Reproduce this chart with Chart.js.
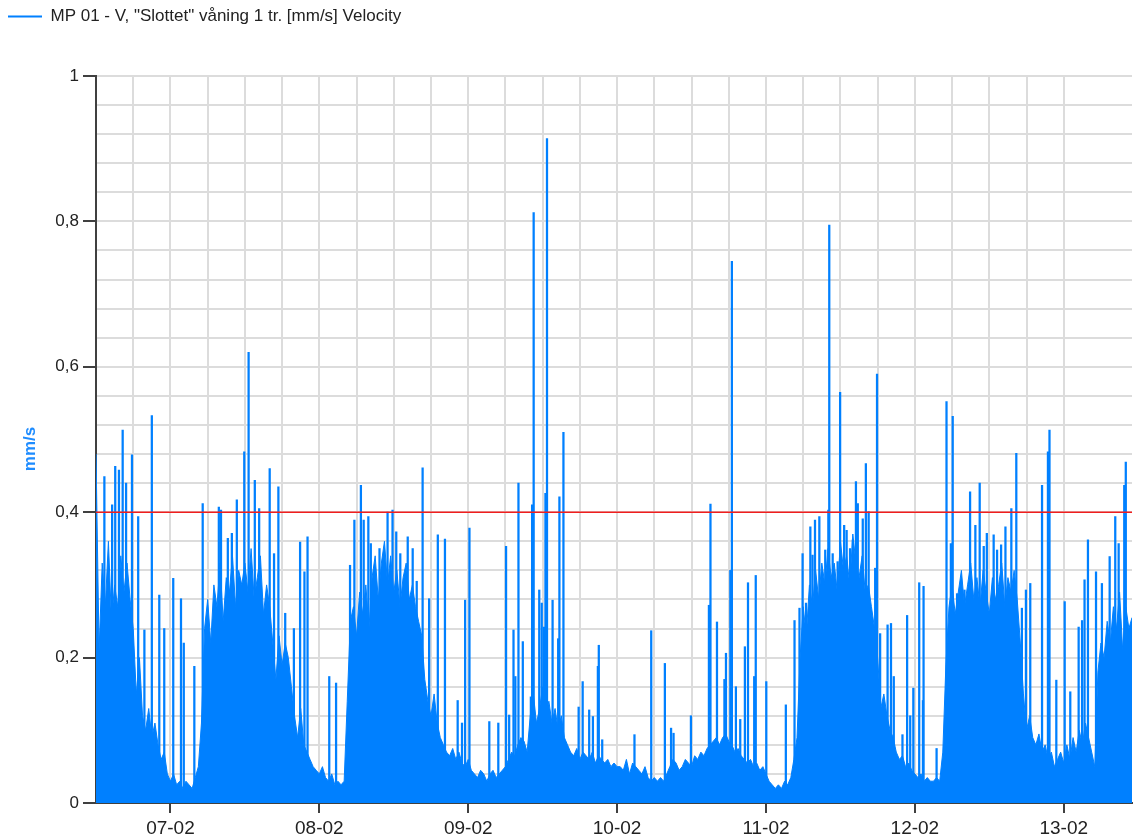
<!DOCTYPE html>
<html><head><meta charset="utf-8">
<script src="https://cdn.jsdelivr.net/npm/chart.js@4.4.1/dist/chart.umd.min.js"></script>
<style>html,body{margin:0;padding:0;background:#fff;}</style>
</head><body>
<canvas id="c" width="1137" height="838"></canvas>
<script>
const seriesName = 'MP 01 - V, "Slottet" våning 1 tr. [mm/s] Velocity';
const yAxisTitle = 'mm/s';
const dayLabels = ['07-02','08-02','09-02','10-02','11-02','12-02','13-02'];
const yTickLabels = ['0','0,2','0,4','0,6','0,8','1'];
// time in hours relative to 07-02 00:00
const xMin = -12, xMax = 155;
const startHour = -12, stepHours = 0.5;
const limitValue = 0.4;

const velocity = [
0.48,0.21,0.33,0.27,0.36,0.25,0.30,0.27,0.34,0.29,0.33,0.28,
0.24,0.15,0.20,
0.12,0.10,0.13,0.09,0.11,0.08,0.06,0.07,0.04,
0.03,0.04,0.025,0.03,0.02,0.03,0.025,0.02,0.035,0.05,
0.11,0.24,0.28,0.22,0.30,0.27,0.33,0.25,0.31,0.29,0.34,0.27,0.32,0.30,
0.33,0.29,0.35,0.28,0.31,0.34,0.26,0.30,0.27,
0.22,0.17,0.23,0.19,0.22,0.20,0.16,
0.12,0.09,0.13,0.08,0.07,
0.06,0.05,0.045,0.04,0.05,0.035,0.03,0.04,0.025,0.03,0.025,0.03,
0.14,
0.25,0.27,0.23,0.29,0.26,0.30,0.24,
0.31,0.34,0.28,0.33,0.36,0.30,0.34,0.29,0.32,0.27,0.31,0.33,0.28,0.30,0.27,
0.25,0.23,0.17,0.14,0.12,0.15,0.11,0.09,
0.08,0.07,0.065,0.075,0.06,0.07,0.055,0.05,0.06,
0.045,0.04,0.035,0.045,0.04,0.03,0.04,0.045,0.035,0.04,0.045,
0.05,0.06,0.07,0.065,0.08,0.09,0.085,0.07,
0.12,0.15,0.11,0.13,0.16,0.12,0.14,0.11,0.13,0.10,0.12,0.09,
0.08,0.07,0.065,0.075,0.06,0.07,0.065,0.06,0.07,0.055,0.065,0.06,0.055,0.06,0.05,0.055,0.05,
0.05,0.045,0.06,0.04,0.055,0.05,0.045,0.04,0.05,0.035,
0.03,0.035,0.03,0.035,0.03,0.04,
0.05,0.06,0.055,0.045,0.05,0.06,0.055,0.05,0.065,0.06,0.07,0.065,0.075,
0.08,0.085,0.09,0.08,0.09,0.095,0.085,0.08,
0.07,0.075,0.065,0.06,0.055,0.06,0.05,0.055,0.045,0.05,0.04,
0.03,0.025,0.02,0.025,0.02,0.03,0.025,0.035,0.06,
0.09,0.20,0.27,0.23,
0.30,0.27,0.32,0.28,0.33,0.30,0.35,0.31,0.33,0.29,0.36,0.32,0.34,0.30,0.37,0.33,0.31,0.34,0.29,0.30,0.27,
0.24,0.20,0.13,0.15,0.12,0.10,0.09,
0.07,0.06,0.065,0.05,0.055,0.045,0.04,0.035,0.04,0.03,0.035,0.03,0.03,0.035,0.03,
0.07,
0.19,0.27,0.30,0.26,0.29,0.32,0.27,0.30,0.33,0.28,0.31,0.27,0.32,0.29,0.26,0.31,0.28,0.30,0.33,0.27,0.31,0.29,0.32,
0.28,0.22,0.15,0.10,0.12,0.09,0.08,0.095,0.07,0.08,
0.06,0.07,0.05,0.06,0.07,0.055,0.08,0.06,0.09,0.07,0.10,0.08,0.11,0.09,0.07,0.05,
0.18,0.22,0.20,0.25,0.22,0.27,0.24,0.29,0.21,0.27,0.24,0.255
];

// short-lived peaks: time (hours) and value
const peakHours = [
-10.65,-9.4,-8.9,-8.3,-7.7,-7.15,-6.2,-5.2,-4.2,-3.0,-1.8,-1.0,0.45,1.7,2.15,3.85,5.2,7.8,8.15,9.25,9.9,10.7,11.9,12.6,13.6,14.3,
16.0,16.7,17.4,18.5,19.9,20.9,21.6,22.1,25.6,26.7,28.95,29.65,30.7,31.15,31.9,32.3,33.7,35.0,35.8,36.4,37.05,38.25,39.05,39.7,40.65,41.7,43.1,44.25,
46.3,47.0,47.5,48.2,51.4,52.85,54.1,54.6,55.3,55.6,56.1,56.8,58.1,58.3,58.55,59.45,59.85,60.2,60.45,60.7,61.6,62.5,62.7,63.35,65.8,66.45,67.5,68.1,68.9,69.05,69.6,
74.8,77.5,79.7,80.7,81.1,83.9,86.8,87.05,88.1,89.3,89.55,90.25,90.5,91.15,91.85,92.6,93.1,94.1,94.35,96.05,99.2,100.6,
101.4,101.9,102.45,103.15,103.5,103.9,104.6,105.55,106.05,106.2,106.75,107.55,107.95,108.6,109.0,109.55,110.0,110.5,110.8,111.6,112.1,112.55,113.6,113.9,114.4,115.6,116.15,116.6,
118.0,118.75,119.25,119.75,120.7,121.3,121.4,123.5,125.1,125.8,126.1,126.8,127.7,
128.0,128.9,129.75,130.45,131.1,131.6,132.7,133.25,133.9,134.6,135.55,136.35,137.25,137.9,138.6,140.5,141.45,141.7,142.8,144.15,145.05,146.4,146.95,147.35,147.9,
149.2,150.15,151.4,152.3,152.85,153.75,154.0
];
const peakValues = [
0.449,0.41,0.463,0.458,0.513,0.44,0.479,0.394,0.238,0.533,0.286,0.24,0.309,0.281,0.22,0.188,0.412,0.407,0.403,0.364,0.371,0.417,0.483,0.62,0.444,0.405,
0.46,0.343,0.435,0.261,0.24,0.359,0.318,0.366,0.174,0.165,0.327,0.389,0.437,0.389,0.394,0.357,0.35,0.4,0.403,0.373,0.343,0.366,0.35,0.305,0.461,0.281,0.369,0.363,
0.141,0.11,0.279,0.378,0.112,0.11,0.353,0.121,0.238,0.174,0.44,0.222,0.146,0.41,0.812,0.293,0.275,0.242,0.426,0.914,0.279,0.226,0.421,0.51,0.132,0.167,0.128,0.119,0.188,0.217,0.087,
0.094,0.237,0.192,0.103,0.096,0.12,0.272,0.411,0.249,0.17,0.206,0.32,0.745,0.16,0.115,0.215,0.303,0.174,0.313,0.167,0.135,0.251,
0.268,0.343,0.275,0.38,0.341,0.389,0.394,0.348,0.403,0.795,0.343,0.332,0.565,0.382,0.375,0.35,0.362,0.442,0.412,0.391,0.467,0.401,0.323,0.59,0.233,0.245,0.247,0.174,
0.094,0.258,0.12,0.158,0.303,0.141,0.298,0.075,0.552,0.357,0.532,0.288,0.242,
0.293,0.428,0.382,0.44,0.353,0.371,0.369,0.348,0.355,0.38,0.405,0.481,0.268,0.293,0.302,0.437,0.483,0.513,0.169,0.277,0.153,0.242,0.251,0.307,0.362,
0.318,0.302,0.339,0.394,0.357,0.437,0.469
];

const BLUE = '#0080ff';
const FONT = "'Liberation Sans', Arial, sans-serif";
const mainData = velocity.map((v, i) => ({x: startHour + i * stepHours, y: v}));
const peakData = peakHours.map((h, i) => ({x: h, y: peakValues[i]}));
const limitData = [{x: xMin, y: limitValue}, {x: xMax, y: limitValue}];

const isMult = (v, s) => Math.abs(v / s - Math.round(v / s)) < 1e-6;

const legendSpacer = {
  id: 'legendSpacer',
  afterInit(chart) {
    const lg = chart.legend;
    if (!lg) return;
    const f = lg.fit;
    lg.fit = function () { f.call(this); this.height = 76; };
  }
};

new Chart(document.getElementById('c'), {
  type: 'line',
  data: {
    datasets: [
      {label: 'limit', data: limitData, borderColor: '#f01e1e', borderWidth: 1.5, pointRadius: 0, fill: false, order: 0},
      {type: 'bar', label: 'peaks', data: peakData, backgroundColor: BLUE, borderWidth: 0, barThickness: 1.6, order: 1},
      {label: seriesName, data: mainData, borderColor: BLUE, backgroundColor: BLUE, borderWidth: 1, pointRadius: 0, fill: 'origin', tension: 0, order: 2}
    ]
  },
  options: {
    responsive: false,
    animation: false,
    layout: {padding: {left: 0, right: 5, top: 0, bottom: 0}},
    plugins: {
      tooltip: {enabled: false},
      legend: {
        position: 'top',
        align: 'start',
        labels: {
          usePointStyle: true,
          pointStyleWidth: 34,
          padding: 8,
          color: '#222',
          font: {family: FONT, size: 17},
          generateLabels(chart) {
            const items = Chart.defaults.plugins.legend.labels.generateLabels(chart);
            return items.filter(it => it.datasetIndex === 2).map(it => Object.assign(it, {
              lineWidth: 2, pointStyle: 'line', strokeStyle: BLUE, fillStyle: BLUE
            }));
          }
        }
      }
    },
    scales: {
      x: {
        type: 'linear',
        min: xMin, max: xMax,
        offset: false,
        ticks: {
          stepSize: 6, autoSkip: false, maxRotation: 0, minRotation: 0,
          padding: 4, color: '#222', font: {family: FONT, size: 19},
          callback(v) {
            if (isMult(v, 24)) { const d = Math.round(v / 24); if (d >= 0 && d < dayLabels.length) return dayLabels[d]; }
            return '';
          }
        },
        grid: {
          offset: false, lineWidth: 2, tickLength: 10, tickWidth: 2,
          color: c => (c.tick && isMult(c.tick.value, 6)) ? '#dcdcdc' : 'rgba(0,0,0,0)',
          tickColor: c => (c.tick && isMult(c.tick.value, 24)) ? '#404040' : 'rgba(0,0,0,0)'
        },
        border: {color: '#404040', width: 2},
        afterFit(s) { s.height = 35; }
      },
      y: {
        min: 0, max: 1,
        ticks: {
          stepSize: 0.04, autoSkip: false, padding: 4, color: '#222', font: {family: FONT, size: 17},
          callback(v) { return isMult(v, 0.2) ? yTickLabels[Math.round(v / 0.2)] : ''; }
        },
        grid: {
          lineWidth: 2, tickLength: 13, tickWidth: 2,
          color: '#dcdcdc',
          tickColor: c => (c.tick && isMult(c.tick.value, 0.2)) ? '#404040' : 'rgba(0,0,0,0)'
        },
        border: {color: '#404040', width: 2},
        title: {display: true, text: yAxisTitle + '    ', color: '#1e8cff', font: {family: FONT, size: 17, weight: 'bold'}, padding: {top: 20, bottom: 0}},
        afterFit(s) { s.width = 96; }
      }
    }
  },
  plugins: [legendSpacer]
});
</script>
</body></html>
